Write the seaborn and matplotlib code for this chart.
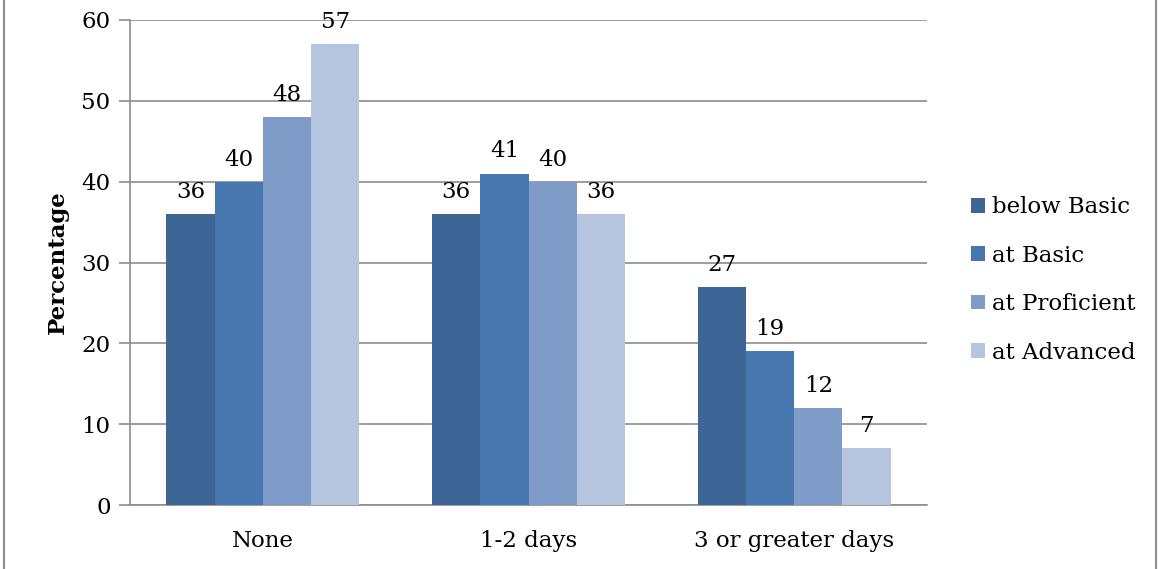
import matplotlib
matplotlib.use("Agg")
import matplotlib.pyplot as plt
import seaborn as sns
import pandas as pd
from matplotlib.patches import Rectangle

categories = ["None", "1-2 days", "3 or greater days"]
series = ["below Basic", "at Basic", "at Proficient", "at Advanced"]
below_basic = [36, 36, 27]
at_basic = [40, 41, 19]
at_proficient = [48, 40, 12]
at_advanced = [57, 36, 7]
yticks = [0, 10, 20, 30, 40, 50, 60]
colors = ["#3D6596", "#4877B0", "#7F9CC8", "#B5C4DF"]

rows = []
for s, vals in zip(series, [below_basic, at_basic, at_proficient, at_advanced]):
    for c, v in zip(categories, vals):
        rows.append({"Category": c, "Series": s, "Value": v})
df = pd.DataFrame(rows)

sns.set_style("white")
plt.rcParams["font.family"] = ["DejaVu Serif"]
plt.rcParams["text.color"] = "black"
plt.rcParams["xtick.color"] = "black"
plt.rcParams["ytick.color"] = "black"
plt.rcParams["axes.labelcolor"] = "black"

FS = 16.5

fig = plt.figure(figsize=(11.58, 5.69), dpi=100)
ax = fig.add_axes([130/1158, 1-505/569, (927-130)/1158, (505-20)/569])

sns.barplot(data=df, x="Category", y="Value", hue="Series", order=categories,
            hue_order=series, palette=colors, width=0.727, ax=ax,
            edgecolor="none", linewidth=0, saturation=1, errorbar=None, zorder=3)

for cont in ax.containers:
    ax.bar_label(cont, fmt="%d", padding=8, fontsize=FS, color="black", zorder=4)

ax.set_ylim(0, 60)
ax.set_xlim(-0.5, 2.5)
ax.set_yticks(yticks)
ax.set_yticklabels([str(t) for t in yticks], fontsize=FS)
ax.yaxis.grid(True, color="#8C8C8C", linewidth=1.2, zorder=0)
ax.set_axisbelow(True)
ax.tick_params(axis="y", direction="out", length=8, width=1.2, color="#8C8C8C", labelcolor="black", left=True, pad=6)
ax.tick_params(axis="x", length=0, pad=18, labelsize=FS, labelcolor="black")
ax.set_xticks(range(len(categories)))
ax.set_xticklabels(categories)
ax.set_xticks([-0.5, 0.5, 1.5, 2.5], minor=True)
ax.tick_params(axis="x", which="minor", direction="out", length=8, width=1.2, color="#8C8C8C")

for side in ["top", "right"]:
    ax.spines[side].set_visible(False)
for side in ["left", "bottom"]:
    ax.spines[side].set_color("#8C8C8C")
    ax.spines[side].set_linewidth(1.2)

ax.set_xlabel("")
ax.set_ylabel("Percentage", fontsize=FS, fontweight="bold", labelpad=9, color="black")

handles, labels = ax.get_legend_handles_labels()
ax.legend(handles, labels, loc="center left",
          bbox_to_anchor=((962-130)/797, 1 - (280-20)/485),
          frameon=False, fontsize=FS, handlelength=0.6, handleheight=0.6,
          handletextpad=0.3, labelspacing=1.15, borderaxespad=0, labelcolor="black")

fig.patches.append(Rectangle((4/1158, -0.05), (1156-4)/1158, 1.1, transform=fig.transFigure,
                             fill=False, edgecolor="#8C8C8C", linewidth=1.5))

fig.savefig("out.png", dpi=100)
